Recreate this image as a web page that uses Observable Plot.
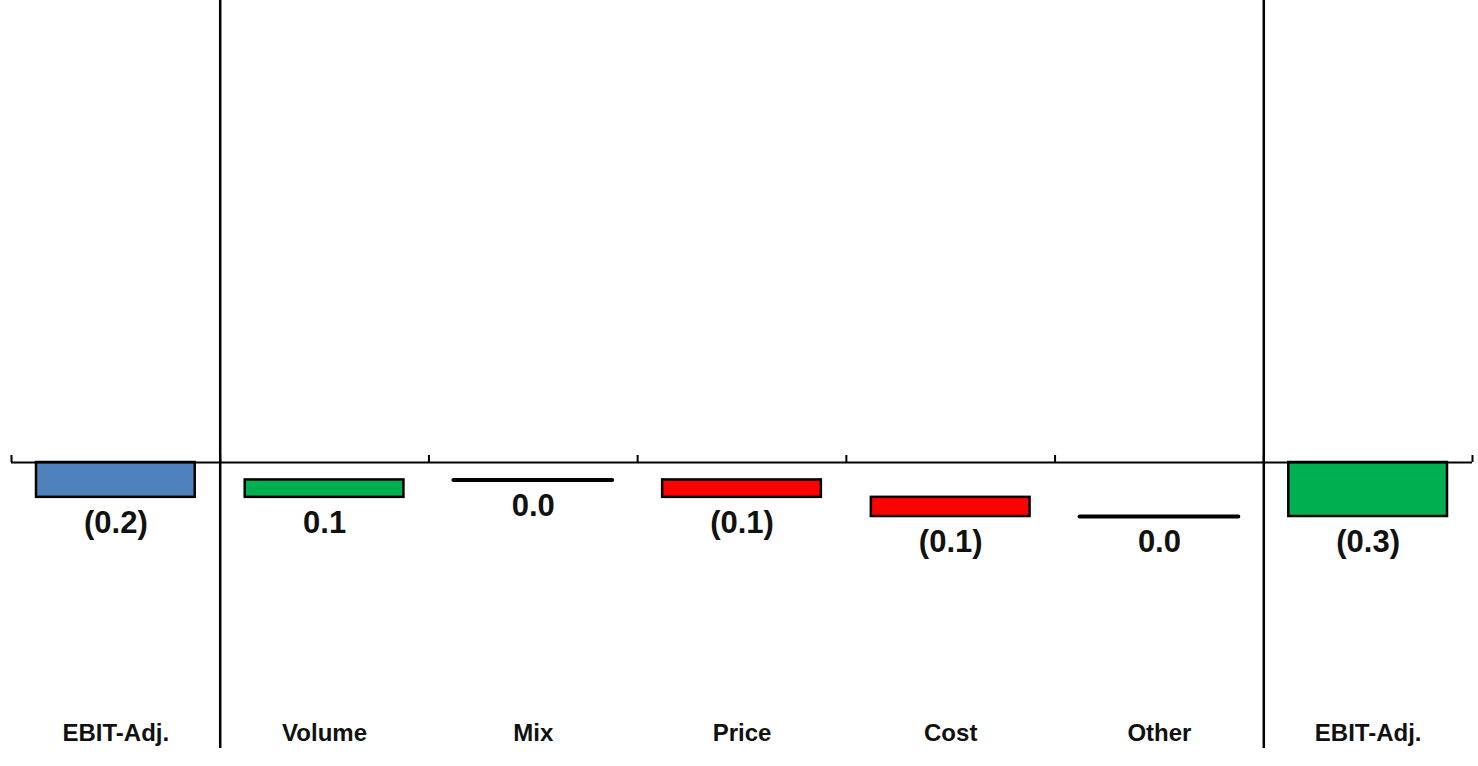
<!DOCTYPE html>
<html>
<head>
<meta charset="utf-8">
<script src="https://cdn.jsdelivr.net/npm/d3@7"></script>
<script src="https://cdn.jsdelivr.net/npm/@observablehq/plot@0.6"></script>
<style>
  html, body { margin: 0; padding: 0; background: #fff; overflow: hidden; }
  #chart svg { display: block; }
</style>
</head>
<body>
<div id="chart"></div>
<script>
// ---- Data ----
const categories = ["EBIT-Adj.", "Volume", "Mix", "Price", "Cost", "Other", "EBIT-Adj."];
const values = [-0.2, 0.1, 0.0, -0.1, -0.11, 0.0, -0.31];
const kinds = ["total", "delta", "delta", "delta", "delta", "delta", "total"];
const separators = [1, 6];

// ---- Build waterfall rows ----
let cum = 0;
const rows = categories.map((label, i) => {
  const v = values[i];
  let y1, y2;
  if (kinds[i] === "total") { y1 = 0; y2 = v; cum = v; }
  else { y1 = cum; y2 = cum + v; cum = y2; }
  return {i, label, v, y1, y2, kind: kinds[i], first: i === 0};
});
const fmt = v => v < 0 ? `(${Math.abs(v).toFixed(1)})` : v.toFixed(1);
const fillOf = d => d.kind === "total" ? (d.first ? "#4f81bd" : "#00b050") : (d.v > 0 ? "#00b050" : "#ff0000");
const bars = rows.filter(d => d.v !== 0);
const flats = rows.filter(d => d.v === 0);

const font = "'Liberation Sans', Arial, Helvetica, sans-serif";

const chart = Plot.plot({
  width: 1478,
  height: 766,
  marginTop: 0,
  marginBottom: 0,
  marginLeft: 11,
  marginRight: 6,
  style: {fontFamily: font, background: "#fff"},
  x: {domain: [0, categories.length], axis: null},
  y: {domain: [-1.745, 2.652], axis: null},
  marks: [
    Plot.rectY(bars, {x1: d => d.i, x2: d => d.i + 1, y1: "y1", y2: "y2", insetLeft: 25, insetRight: 25,
      fill: fillOf, stroke: "#000", strokeWidth: 2.5}),
    Plot.ruleY(flats, {x1: d => d.i, x2: d => d.i + 1, y: "y1", insetLeft: 25, insetRight: 25,
      stroke: "#000", strokeWidth: 4, strokeLinecap: "round"}),
    Plot.ruleY([0], {stroke: "#000", strokeWidth: 2}),
    Plot.ruleX(d3.range(0, categories.length + 1), {x: d => d, y1: 0, y2: 0, insetTop: -7, stroke: "#000", strokeWidth: 2}),
    Plot.ruleX(separators, {stroke: "#000", strokeWidth: 2.5, insetBottom: 18}),
    Plot.text(rows, {x: d => d.i + 0.5, y: d => Math.min(d.y1, d.y2), text: d => fmt(d.v), dy: 26,
      lineAnchor: "middle", fontSize: 31, fontWeight: "bold", fill: "#111"}),
    Plot.text(rows, {x: d => d.i + 0.5, frameAnchor: "bottom", dy: -33, text: "label",
      lineAnchor: "middle", fontSize: 24, fontWeight: "bold", fill: "#111"})
  ]
});
document.getElementById("chart").append(chart);
</script>
</body>
</html>
